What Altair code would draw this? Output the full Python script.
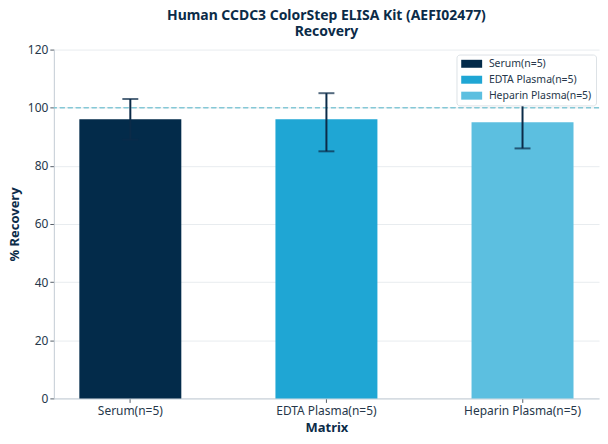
import altair as alt
import pandas as pd

categories = ["Serum(n=5)", "EDTA Plasma(n=5)", "Heparin Plasma(n=5)"]
means = [96, 96, 95]
lows = [89, 85, 86]
highs = [103, 105, 104]
colors = ["#032b4a", "#1fa6d4", "#5cbfe0"]

df = pd.DataFrame({"Matrix": categories, "Recovery": means, "low": lows, "high": highs})

FONT = "Noto Sans"
NAVY = "#0b2b48"

xenc = alt.X("Matrix:N", sort=categories, title="Matrix",
             scale=alt.Scale(paddingInner=0.48, paddingOuter=0.13),
             axis=alt.Axis(labelAngle=0, labelFontSize=12, labelColor="#26374a",
                           titleFontSize=13, titleFontWeight="bold", titleColor=NAVY,
                           domainColor="#c3ccd4", tickColor="#555e68", tickSize=4,
                           labelPadding=3, titlePadding=5, grid=False))

bars = alt.Chart(df).mark_bar().encode(
    x=xenc,
    y=alt.Y("Recovery:Q", title="% Recovery",
            scale=alt.Scale(domain=[0, 120]),
            axis=alt.Axis(values=[0, 20, 40, 60, 80, 100, 120], labelFontSize=12,
                          labelColor="#26374a", titleFontSize=13, titleFontWeight="bold",
                          titleColor=NAVY, domainColor="#c3ccd4", tickColor="#555e68",
                          tickSize=4, gridColor="#e8ecef", titlePadding=6)),
    color=alt.Color("Matrix:N", sort=categories,
                    scale=alt.Scale(domain=categories, range=colors),
                    legend=alt.Legend(title=None, orient="none", legendX=404, legendY=5,
                                      symbolType="M-2.1,-0.8H2.1V0.8H-2.1Z", symbolSize=100,
                                      symbolOffset=6, symbolStrokeWidth=0, labelFontSize=10.5,
                                      labelColor="#26374a", padding=4, rowPadding=5,
                                      strokeColor="#dde2e6", fillColor="white",
                                      cornerRadius=3, labelOffset=12, labelLimit=200)),
)

ref = alt.Chart(df).mark_rule(color="#86c8d6", strokeDash=[5, 3], strokeWidth=1).encode(
    y=alt.datum(100)
)

rule = alt.Chart(df).mark_rule(color=NAVY, strokeWidth=2).encode(
    x=alt.X("Matrix:N", sort=categories),
    y="low:Q",
    y2="high:Q",
)
cap_lo = alt.Chart(df).mark_tick(color=NAVY, thickness=2, size=16).encode(
    x=alt.X("Matrix:N", sort=categories), y="low:Q")
cap_hi = alt.Chart(df).mark_tick(color=NAVY, thickness=2, size=16).encode(
    x=alt.X("Matrix:N", sort=categories), y="high:Q")

chart = alt.layer(bars, ref, rule, cap_lo, cap_hi).properties(
    width=547, height=350,
    title=alt.TitleParams(text=["Human CCDC3 ColorStep ELISA Kit (AEFI02477)", "Recovery"],
                          fontSize=14, fontWeight="bold", color=NAVY, anchor="middle",
                          lineHeight=16, offset=5, font=FONT),
    padding={"left": 0, "top": 0, "right": 0, "bottom": 0},
).configure(font=FONT).configure_view(stroke=None)

chart.save("out.html", embed_options={"renderer": "svg", "actions": False})
